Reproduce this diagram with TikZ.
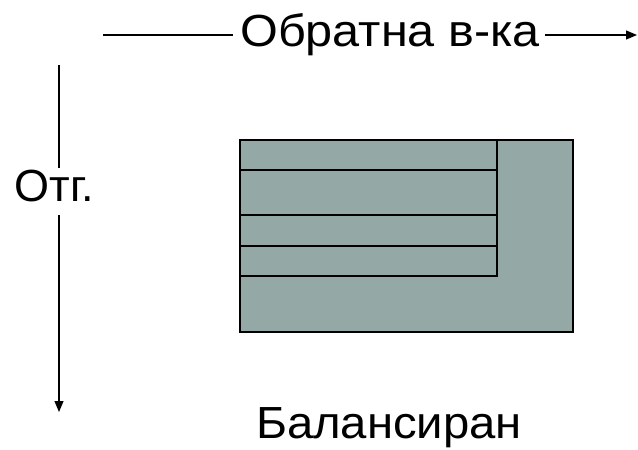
\documentclass[tikz,border=0pt]{standalone}
\usepackage{fontspec}
\setmainfont{Liberation Sans}
\usetikzlibrary{arrows.meta}
\definecolor{boxfill}{HTML}{94A9A6}
\tikzset{
  lbl/.style={inner sep=0pt, font=\fontsize{45}{54}\selectfont},
  arr/.style={line width=1.2pt, -{Triangle[length=11pt,width=9pt]}},
  plain/.style={line width=1.2pt},
  grid/.style={line width=1.6pt}
}
\begin{document}
\begin{tikzpicture}[x=1pt,y=-1pt]
\useasboundingbox (0,0) rectangle (638,450);
% top axis
\node[lbl, anchor=base, xscale=1.08] (top) at (390,46) {Обратна в-ка};
\coordinate (tl) at (103,35);
\coordinate (tr) at (637,35);
\draw[plain] (tl) -- ([xshift=-7pt]top.west |- tl);
\draw[arr] ([xshift=5pt]top.east |- tr) -- (tr);
% left axis
\node[lbl, anchor=base] (left) at (54.5,201) {Отг.};
\coordinate (vt) at (59,65);
\coordinate (vb) at (59,412);
\draw[plain] (vt) -- (59,168);
\draw[arr] (59,215) -- (vb);
% box
\coordinate (bA) at (240,140);
\coordinate (bB) at (573,332);
\draw[grid, fill=boxfill] (bA) rectangle (bB);
\draw[grid] (240,170) -- (497,170);
\draw[grid] (240,215) -- (497,215);
\draw[grid] (240,246) -- (497,246);
\draw[grid] (240,276) -- (497,276) -- (497,140);
% bottom label
\node[lbl, anchor=base, xscale=1.05] (bal) at (389,438) {Балансиран};
\end{tikzpicture}
\end{document}
